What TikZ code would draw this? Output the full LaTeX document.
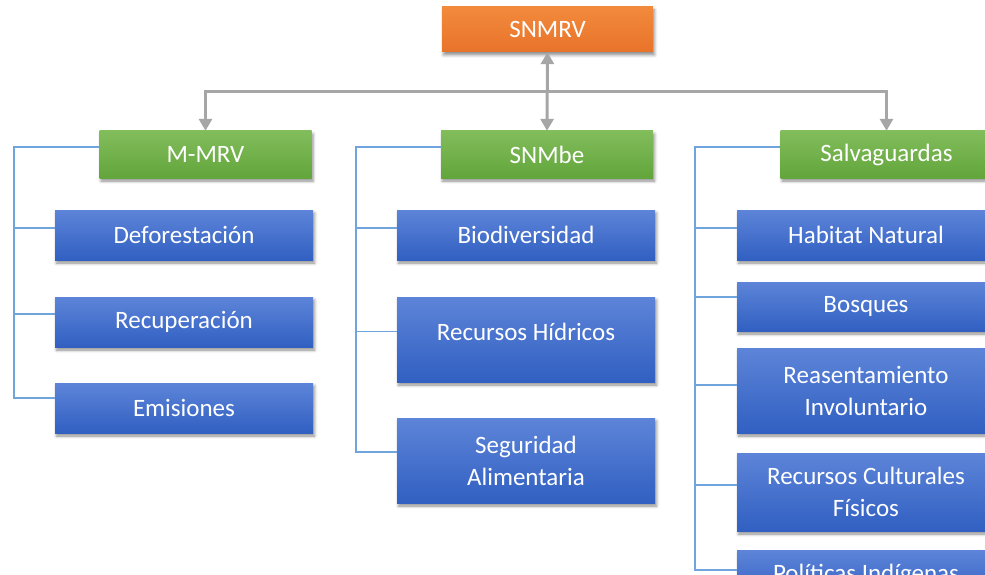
\documentclass[tikz,border=0pt]{standalone}
\usepackage{fontspec}
\setmainfont{Carlito}
\usetikzlibrary{arrows.meta,shadows.blur}

\definecolor{orangetop}{HTML}{F28A3C}
\definecolor{orangebot}{HTML}{E8732A}
\definecolor{greentop}{HTML}{82BD5C}
\definecolor{greenbot}{HTML}{62A53B}
\definecolor{bluetop}{HTML}{5D84D8}
\definecolor{bluebot}{HTML}{3160C2}
\definecolor{linkblue}{HTML}{6FA5DC}
\definecolor{arrowgray}{HTML}{A6A6A6}

\tikzset{
  box/.style={rectangle, inner sep=0pt, align=center, text=white,
    font=\fontsize{25}{32}\selectfont,
    blur shadow={shadow xshift=1.5pt, shadow yshift=-3pt,
      shadow blur radius=3pt, shadow opacity=45}},
  rootbox/.style={box, top color=orangetop, bottom color=orangebot,
    minimum width=211pt, minimum height=45pt},
  groupbox/.style={box, top color=greentop, bottom color=greenbot,
    minimum width=212pt, minimum height=47pt},
  itembox/.style={box, top color=bluetop, bottom color=bluebot,
    minimum width=258pt},
  link/.style={draw=linkblue, line width=1.6pt},
  feed/.style={draw=arrowgray, line width=3pt,
    -{Triangle[width=13pt,length=12pt]}},
  feedboth/.style={draw=arrowgray, line width=3pt,
    {Triangle[width=13pt,length=12pt]}-{Triangle[width=13pt,length=12pt]}}
}

\begin{document}
\begin{tikzpicture}[x=1pt,y=-1pt]
\useasboundingbox (0,0) rectangle (985,575);
\clip (0,0) rectangle (985,575);

% top level
\node[rootbox] (snmrv) at (547.5,29.5) {SNMRV};

% group headers
\node[groupbox] (mmrv) at (205.5,154.5) {M-MRV};
\node[groupbox] (snmbe) at (547,154.5) {SNMbe};
\node[groupbox] (salv) at (886.5,154.5) {Salvaguardas};

% M-MRV items
\node[itembox, minimum height=50pt] (defo) at (184,235) {Deforestación};
\node[itembox, minimum height=50pt] (recu) at (184,322) {Recuperación};
\node[itembox, minimum height=50pt] (emis) at (184,408) {Emisiones};

% SNMbe items
\node[itembox, minimum height=50pt] (bio) at (526,235) {Biodiversidad};
\node[itembox, minimum height=85pt, text depth=16pt] (hidr) at (526,339.5) {Recursos Hídricos};
\node[itembox, minimum height=85pt] (segu) at (526,460.5) {Seguridad\\Alimentaria};

% Salvaguardas items
\node[itembox, minimum height=50pt] (habi) at (866,235) {Habitat Natural};
\node[itembox, minimum height=49pt] (bosq) at (866,306.5) {Bosques};
\node[itembox, minimum height=85pt] (reas) at (866,390.5) {Reasentamiento\\Involuntario};
\node[itembox, minimum height=78pt] (cult) at (866,492) {Recursos Culturales\\Físicos};
\node[itembox, minimum height=50pt] (poli) at (866,575) {Políticas Indígenas};

% gray hierarchy arrows
\coordinate (hub) at (547,92);
\draw[feedboth] (snmrv.south) -- (snmbe.north);
\draw[feed] (hub) -| (mmrv.north);
\draw[feed] (hub) -| (salv.north);

% attachment points of the bracket lines, a little above each box centre
\coordinate (mmrvin) at ([yshift=7.5pt]mmrv.west);
\coordinate (defoin) at ([yshift=7pt]defo.west);
\coordinate (recuin) at ([yshift=8pt]recu.west);
\coordinate (emisin) at ([yshift=10pt]emis.west);
\coordinate (snmbein) at ([yshift=7.5pt]snmbe.west);
\coordinate (bioin) at ([yshift=7pt]bio.west);
\coordinate (hidrin) at ([yshift=8pt]hidr.west);
\coordinate (seguin) at ([yshift=8.5pt]segu.west);
\coordinate (salvin) at ([yshift=7.5pt]salv.west);
\coordinate (habiin) at ([yshift=7pt]habi.west);
\coordinate (bosqin) at ([yshift=9.5pt]bosq.west);
\coordinate (reasin) at ([yshift=5.5pt]reas.west);
\coordinate (cultin) at ([yshift=7pt]cult.west);
\coordinate (poliin) at ([yshift=5pt]poli.west);

% bracket spines
\coordinate (lspine) at (14,0);
\coordinate (mspine) at (356,0);
\coordinate (rspine) at (695,0);

% M-MRV bracket
\draw[link] (mmrvin) -| (lspine |- emisin) -- (emisin);
\draw[link] (lspine |- defoin) -- (defoin);
\draw[link] (lspine |- recuin) -- (recuin);

% SNMbe bracket
\draw[link] (snmbein) -| (mspine |- seguin) -- (seguin);
\draw[link] (mspine |- bioin) -- (bioin);
\draw[link] (mspine |- hidrin) -- (hidrin);

% Salvaguardas bracket
\draw[link] (salvin) -| (rspine |- poliin) -- (poliin);
\draw[link] (rspine |- habiin) -- (habiin);
\draw[link] (rspine |- bosqin) -- (bosqin);
\draw[link] (rspine |- reasin) -- (reasin);
\draw[link] (rspine |- cultin) -- (cultin);
\end{tikzpicture}
\end{document}
